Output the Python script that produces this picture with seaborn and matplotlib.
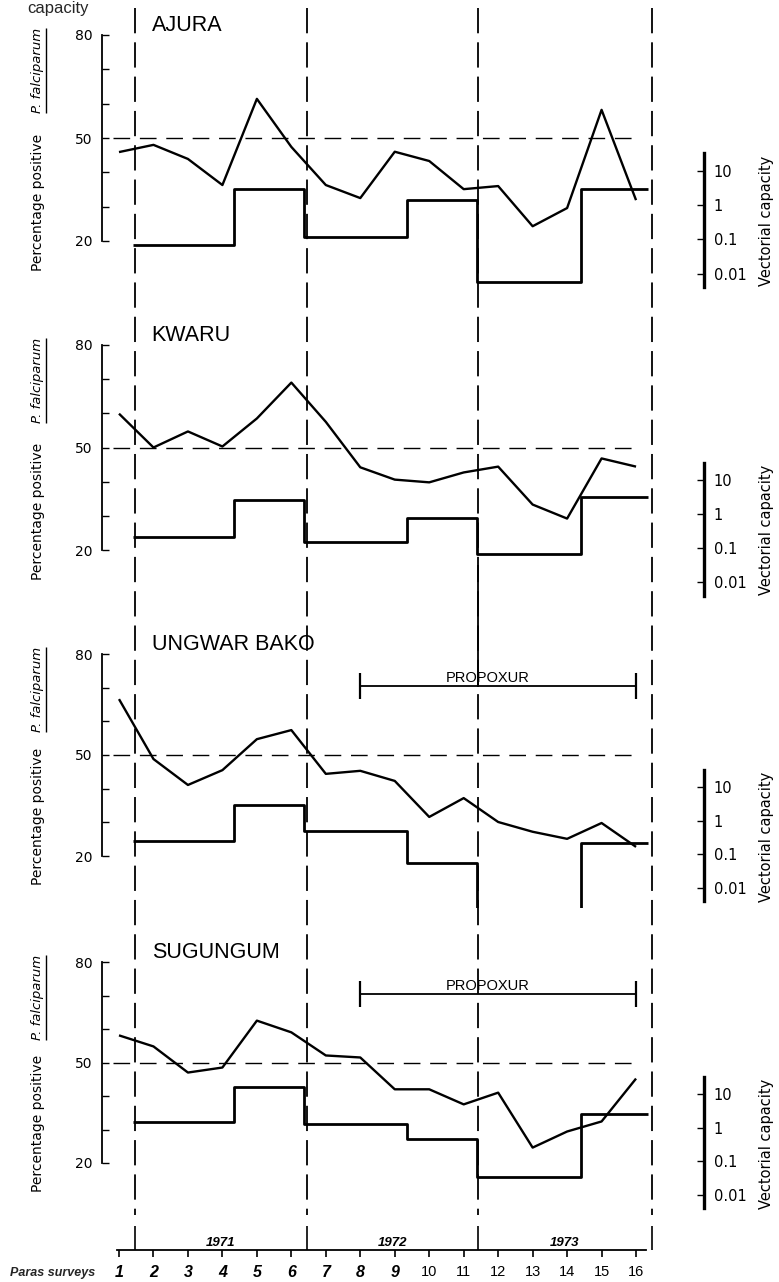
import numpy as np
import pandas as pd
import matplotlib
matplotlib.use("Agg")
import matplotlib.pyplot as plt
import seaborn as sns
from matplotlib.transforms import blended_transform_factory
from matplotlib.lines import Line2D
from matplotlib.ticker import NullLocator, FixedLocator

# ---------------- data ----------------
surveys = list(range(1, 17))
site_names = ["AJURA", "KWARU", "UNGWAR BAKO", "SUGUNGUM"]

# percentage positive P. falciparum, surveys 1-16
ajura_pct = [45.9, 48.0, 43.9, 36.3, 61.4, 47.4, 36.3, 32.5, 46.0, 43.3, 35.1, 36.0, 24.3, 29.6, 58.2, 31.9]
kwaru_pct = [59.9, 50.0, 54.7, 50.3, 58.5, 69.0, 57.5, 44.2, 40.6, 39.8, 42.7, 44.4, 33.3, 29.2, 46.8, 44.4]
ungwar_pct = [66.6, 48.8, 41.1, 45.5, 54.7, 57.4, 44.4, 45.3, 42.3, 31.6, 37.2, 30.1, 27.2, 25.1, 29.8, 22.7]
sugungum_pct = [58.1, 54.8, 47.0, 48.5, 62.5, 59.0, 52.1, 51.5, 42.0, 42.0, 37.5, 41.0, 24.6, 29.4, 32.4, 45.2]

# vectorial capacity per entomological period (log scale)
vc_period_edges = [1.4, 4.33, 6.38, 9.35, 11.38, 14.4, 16.35]
ND = 1e-4  # none detected (drawn off-scale)
ajura_vc = [0.068, 2.88, 0.115, 1.38, 0.0056, 2.88]
kwaru_vc = [0.209, 2.51, 0.158, 0.794, 0.066, 3.09]
ungwar_vc = [0.251, 2.95, 0.49, 0.056, ND, 0.219]
sugungum_vc = [1.45, 17.0, 1.26, 0.479, 0.033, 2.51]

year_bounds = [1.47, 6.45, 11.42, 16.45]
year_labels = ["1971", "1972", "1973"]
propoxur_sites = ["UNGWAR BAKO", "SUGUNGUM"]
propoxur_span = (8, 16)
threshold_pct = 50
vc_ticks = [0.01, 0.1, 1, 10]
vc_ticklabels = ["0.01", "0.1", "1", "10"]

# ---------------- layout ----------------
W, H = 779, 1282
sns.set_theme(style="white")
plt.rcParams.update({
    "font.family": ["DejaVu Sans"],
    "axes.linewidth": 1.3,
    "lines.solid_capstyle": "butt",
    "axes.facecolor": "white",
    "figure.facecolor": "white",
})

fig = plt.figure(figsize=(W / 100, H / 100), dpi=100)

PX0, PX1 = 102, 704
def s_at(px):
    return 1 + (px - 119) / 34.47
S0, S1 = s_at(PX0), s_at(PX1)
YLO, YHI = 4.5, 85.0
VC_OFF = 30.5  # pct-equivalent of VC=1

y80_px = [35, 345, 654, 962]
y20_px = [241, 550, 856, 1163]

pct_series = [ajura_pct, kwaru_pct, ungwar_pct, sugungum_pct]
vc_series = [ajura_vc, kwaru_vc, ungwar_vc, sugungum_vc]

falc_texts = []
for i, name in enumerate(site_names):
    ppu = (y20_px[i] - y80_px[i]) / 60.0
    top = y80_px[i] - (YHI - 80) * ppu
    bot = y20_px[i] + (20 - YLO) * ppu
    ax = fig.add_axes([PX0 / W, 1 - bot / H, (PX1 - PX0) / W, (bot - top) / H])
    ax.patch.set_alpha(0)
    df = pd.DataFrame({"survey": surveys, "pct": pct_series[i]})
    sns.lineplot(data=df, x="survey", y="pct", ax=ax, color="black", lw=1.7)
    ax.hlines(threshold_pct, 0.83, 15.97, colors="black", lw=1.0, linestyles=(0, (12, 7)))
    ax.set_xlim(S0, S1)
    ax.set_ylim(YLO, YHI)
    ax.set_xlabel("")
    ax.set_ylabel("")
    for sp in ["top", "right", "bottom"]:
        ax.spines[sp].set_visible(False)
    ax.spines["left"].set_bounds(20, 80)
    ax.spines["left"].set_color("black")
    ax.set_xticks([])
    ax.set_yticks([20, 30, 40, 50, 60, 70, 80])
    ax.set_yticklabels(["20", "", "", "50", "", "", "80"])
    ax.tick_params(axis="y", direction="in", length=5, width=1.0, pad=7,
                   labelsize=10, colors="black", left=True)
    ax.text(1.95, 82.7, name, fontsize=15.5, family=["Liberation Sans", "DejaVu Sans"],
            ha="left", va="center", color="black")

    # vectorial capacity (log) on a twin axis
    ax2 = ax.twinx()
    ax2.set_yscale("log")
    ax2.set_ylim(10 ** ((YLO - VC_OFF) / 10), 10 ** ((YHI - VC_OFF) / 10))
    vdf = pd.DataFrame({"x": vc_period_edges, "vc": vc_series[i] + [vc_series[i][-1]]})
    sns.lineplot(data=vdf, x="x", y="vc", ax=ax2, color="black", lw=2.0,
                 drawstyle="steps-post", estimator=None, sort=False)
    ax2.set_xlim(S0, S1)
    ax2.set_ylabel("")
    ax2.set_xlabel("")
    for sp in ["top", "left", "bottom"]:
        ax2.spines[sp].set_visible(False)
    ax2.spines["right"].set_bounds(0.004, 32)
    ax2.spines["right"].set_linewidth(2.4)
    ax2.spines["right"].set_color("black")
    ax2.yaxis.set_major_locator(FixedLocator(vc_ticks))
    ax2.yaxis.set_minor_locator(NullLocator())
    ax2.set_yticklabels(vc_ticklabels)
    ax2.tick_params(axis="y", direction="in", length=5, width=1.0, pad=7,
                    labelsize=10.5, colors="black", right=True)

    # axis titles
    trans = blended_transform_factory(fig.transFigure, ax.transData)
    ax.text(38 / W, 11.3, "Percentage positive", rotation=90, transform=trans,
            ha="center", va="bottom", fontsize=10, color="black")
    t = ax.text(38 / W, 82.0, "P. falciparum", rotation=90, transform=trans,
                ha="center", va="top", fontsize=9.5, style="italic", color="black")
    falc_texts.append(t)
    ax.text(767 / W, 25.8, "Vectorial capacity", rotation=90, transform=trans,
            ha="center", va="center", fontsize=10.5, color="black")

    if name in propoxur_sites:
        ax.plot(list(propoxur_span), [70.5, 70.5], color="black", lw=1.3,
                marker="|", ms=19, mew=1.6)
        ax.text(11.7, 72.9, "PROPOXUR", ha="center", va="center", fontsize=10.5,
                family=["Liberation Sans", "DejaVu Sans"], color="black")

# overlay for year boundaries across panels
ax_o = fig.add_axes([PX0 / W, 1 - 1215 / H, (PX1 - PX0) / W, (1215 - 8) / H])
ax_o.set_xlim(S0, S1)
ax_o.set_ylim(1215, 8)
ax_o.set_axis_off()
ax_o.patch.set_alpha(0)
ax_o.vlines(year_bounds, 8, 1215, colors="black", lw=1.3, linestyles=(0, (14, 5)))
ax_o.vlines(year_bounds[2], 565, 687, colors="black", lw=1.3)

# bottom survey axis
ax_b = fig.add_axes([PX0 / W, 1 - 1250 / H, (PX1 - PX0) / W, 24 / H])
ax_b.set_xlim(S0, S1)
ax_b.set_ylim(0, 1)
ax_b.patch.set_alpha(0)
for sp in ["top", "right", "left"]:
    ax_b.spines[sp].set_visible(False)
ax_b.spines["bottom"].set_bounds(0.94, 16.3)
ax_b.spines["bottom"].set_color("black")
ax_b.set_yticks([])
ax_b.set_xticks(surveys)
ax_b.set_xticklabels([str(s) for s in surveys])
ax_b.tick_params(axis="x", direction="out", length=5, width=1.2, pad=6,
                 colors="black", bottom=True)
narrow = ["Liberation Sans Narrow", "Liberation Sans"]
for lbl in ax_b.get_xticklabels():
    lbl.set_fontfamily(narrow)
    if int(lbl.get_text()) < 10:
        lbl.set_fontstyle("italic")
        lbl.set_fontweight("bold")
        lbl.set_fontsize(11.5)
    else:
        lbl.set_fontsize(10.5)
ax_b.vlines(year_bounds, 0, 1, colors="black", lw=1.2)
for k, yl in enumerate(year_labels):
    ax_b.text((year_bounds[k] + year_bounds[k + 1]) / 2, 0.06, yl, ha="center", va="bottom",
              fontsize=9.5, style="italic", weight="bold", family=narrow, color="black")

fig.text(10 / W, 1 - 1273 / H, "Paras surveys", ha="left", va="center", fontsize=9,
         style="italic", weight="bold", family=narrow)
fig.text(27 / W, 1 - 1 / H, "capacity", ha="left", va="top", fontsize=12,
         family=["Liberation Sans", "DejaVu Sans"])

# underline "P. falciparum"
fig.canvas.draw()
r = fig.canvas.get_renderer()
for t in falc_texts:
    bb = t.get_window_extent(r)
    x = (bb.x1 + 1.0) / fig.bbox.width
    fig.add_artist(Line2D([x, x], [bb.y0 / fig.bbox.height, bb.y1 / fig.bbox.height],
                          transform=fig.transFigure, color="black", lw=1.0))

fig.savefig("out.png", dpi=100)
